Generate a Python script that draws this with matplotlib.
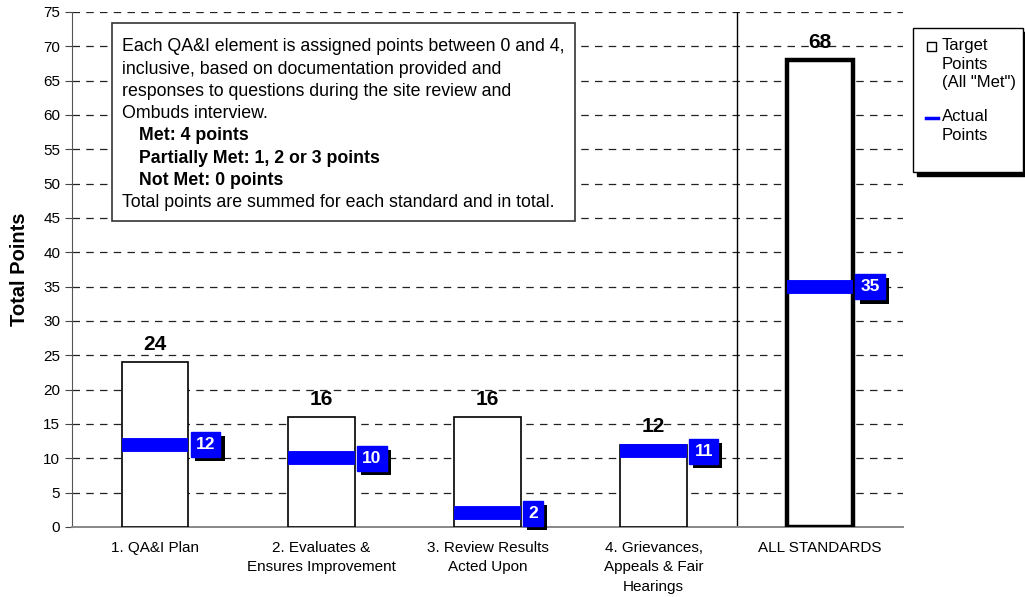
import matplotlib
matplotlib.use("Agg")
import matplotlib.pyplot as plt
from matplotlib.patches import Rectangle
from matplotlib.lines import Line2D
import matplotlib.patheffects as pe
import numpy as np

plt.rcParams['font.family'] = ['Liberation Sans', 'DejaVu Sans']

categories = ['1. QA&I Plan', '2. Evaluates &\nEnsures Improvement', '3. Review Results\nActed Upon',
              '4. Grievances,\nAppeals & Fair\nHearings', 'ALL STANDARDS']
target = [24, 16, 16, 12, 68]
actual = [12, 10, 2, 11, 35]

note_lines = ['Each QA&I element is assigned points between 0 and 4,',
              'inclusive, based on documentation provided and',
              'responses to questions during the site review and',
              'Ombuds interview.']
note_levels = ['Met: 4 points', 'Partially Met: 1, 2 or 3 points', 'Not Met: 0 points']
note_end = 'Total points are summed for each standard and in total.'

fig = plt.figure(figsize=(10.25, 5.97), dpi=100)
ax = fig.add_axes([0.0702, 0.1173, 0.8108, 0.8626])

x = np.arange(len(categories))
w = 0.4
lws = [1.2] * (len(x) - 1) + [3.2]
ax.bar(x, target, width=w, color='white', edgecolor='black', linewidth=lws, zorder=3)
ax.hlines(actual, x - w / 2, x + w / 2, colors='#0000ff', linewidth=10, zorder=4)

# target totals above the bars
for xi, t in zip(x, target):
    ax.annotate(str(t), (xi, t), xytext=(0, 6), textcoords='offset points',
                ha='center', va='bottom', fontsize=15, fontweight='bold', zorder=5)

# actual point labels: blue box with a black drop shadow
for xi, a in zip(x, actual):
    t = ax.text(xi + w / 2 + 0.045, a, str(a), ha='left', va='center', fontsize=12.5,
                fontweight='bold', color='white', zorder=6,
                bbox=dict(boxstyle='square,pad=0.3', fc='#0000ff', ec='#0000ff'))
    t.get_bbox_patch().set_path_effects([
        pe.SimplePatchShadow(offset=(3, -3), shadow_rgbFace='black', alpha=1),
        pe.Normal()])

ax.axvline(3.5, color='black', linewidth=1, zorder=2)

ax.set_xlim(-0.5, 4.5)
ax.set_ylim(0, 75)
ax.set_yticks(np.arange(0, 76, 5))
ax.set_xticks(x)
ax.set_xticklabels(categories, fontsize=11, linespacing=1.5)
ax.tick_params(axis='x', length=0, pad=10)
ax.tick_params(axis='y', labelsize=11, length=5, direction='out', color='#444444')
ax.yaxis.grid(True, color='#222222', linestyle=(0, (6, 5)), linewidth=0.9, zorder=0)
ax.set_axisbelow(True)
for s in ['top', 'right']:
    ax.spines[s].set_visible(False)
ax.spines['left'].set_color('#555555')
ax.spines['bottom'].set_color('#888888')
ax.spines['bottom'].set_linewidth(1.4)
ax.set_ylabel('Total Points', fontsize=14.5, fontweight='bold', labelpad=10)

# scoring note
ax.add_patch(Rectangle((0.048, 0.594), 0.557, 0.385, transform=ax.transAxes,
                       fc='white', ec='#333333', lw=1.2, zorder=7))
y0 = 0.949
dy = 0.0433
fs = 12.8
i = 0
for line in note_lines:
    ax.text(0.060, y0 - i * dy, line, transform=ax.transAxes, va='top', fontsize=fs, zorder=8)
    i += 1
for line in note_levels:
    ax.text(0.081, y0 - i * dy, line, transform=ax.transAxes, va='top', fontsize=fs,
            fontweight='bold', zorder=8)
    i += 1
ax.text(0.060, y0 - i * dy, note_end, transform=ax.transAxes, va='top', fontsize=fs, zorder=8)

# legend box
fig.patches.append(Rectangle((917 / 1025, 1 - 176 / 597), 110 / 1025, 144 / 597,
                             transform=fig.transFigure, fc='black', ec='black', zorder=1))
fig.patches.append(Rectangle((913 / 1025, 1 - 172 / 597), 110 / 1025, 144 / 597,
                             transform=fig.transFigure, fc='white', ec='black', lw=1, zorder=2))
fig.patches.append(Rectangle((927 / 1025, 1 - 51 / 597), 9 / 1025, 9 / 597,
                             transform=fig.transFigure, fc='white', ec='black', lw=1, zorder=3))
fig.lines.append(Line2D([926 / 1025, 938 / 1025], [1 - 118 / 597] * 2, transform=fig.transFigure,
                        color='#0000ff', lw=2.5, zorder=3))
fig.text(942 / 1025, 1 - 38 / 597, 'Target\nPoints\n(All "Met")', va='top', fontsize=12,
         linespacing=1.3, zorder=4)
fig.text(942 / 1025, 1 - 109 / 597, 'Actual\nPoints', va='top', fontsize=12,
         linespacing=1.3, zorder=4)

fig.savefig('out.png', dpi=100)
